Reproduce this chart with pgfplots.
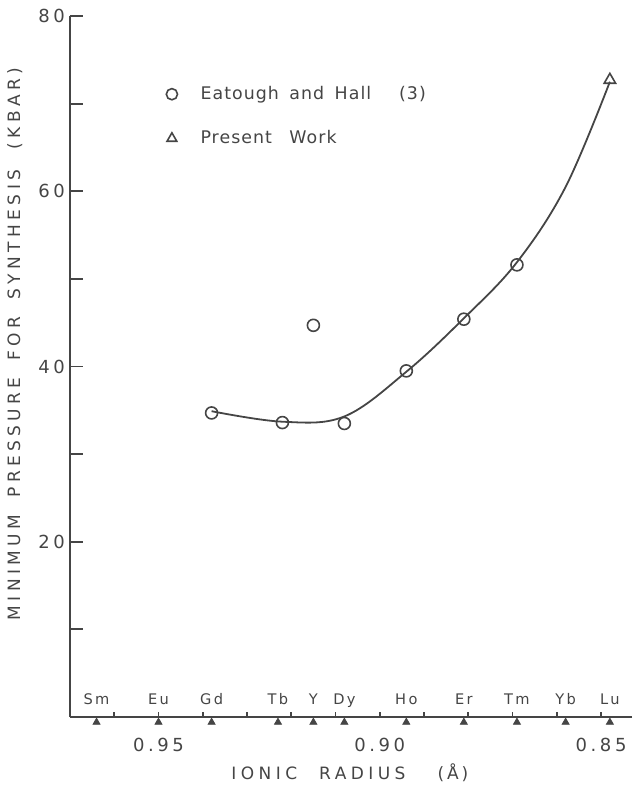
\documentclass[border=0pt]{standalone}
\usepackage{fontspec}
\setmainfont{DejaVu Sans}[LetterSpace=6]
\newfontfamily\axfont{DejaVu Sans}[LetterSpace=26]
\newfontfamily\elfont{DejaVu Sans}[LetterSpace=16]
\newfontfamily\tkfont{DejaVu Sans}[LetterSpace=20]
\usepackage{pgfplots}
\pgfplotsset{compat=1.18}
\definecolor{ink}{HTML}{454545}

\begin{document}
\begin{tikzpicture}
\begin{axis}[
    scale only axis,
    width=281pt, height=350.5pt,
    x dir=reverse,
    xmin=0.843, xmax=0.970,
    ymin=0, ymax=80,
    clip=false,
    axis x line*=bottom, axis y line*=left,
    axis line style={-, line width=1.3pt, color=ink},
    tick align=inside,
    tick style={line width=0.9pt, color=ink},
    major tick length=6.5pt,
    minor tick length=2.5pt,
    xtick={0.85,0.90,0.95},
    every major x tick/.append style={draw=none},
    minor xtick={0.85,0.86,0.87,0.88,0.89,0.90,0.91,0.92,0.93,0.94,0.95,0.96},
    ytick={20,40,60,80},
    extra y ticks={10,30,50,70},
    extra y tick labels={},
    /pgf/number format/assume math mode=true,
    xticklabel style={/pgf/number format/.cd, fixed, fixed zerofill, precision=2,
        /tikz/.cd, font=\tkfont\fontsize{9}{10}\selectfont, text=ink, yshift=-7pt},
    yticklabel style={font=\tkfont\fontsize{9}{10}\selectfont, text=ink, xshift=1pt},
    xlabel={IONIC\hspace{1.3em}RADIUS\hspace{1.9em}(\,Å\,)},
    ylabel={MINIMUM\hspace{1em}PRESSURE\hspace{1em}FOR\hspace{1em}SYNTHESIS\hspace{1.2em}(KBAR)},
    label style={font=\axfont\fontsize{8.5}{10}\selectfont, text=ink},
    xlabel style={at={(axis description cs:0.498,0)}, anchor=center, yshift=-28pt},
    ylabel style={at={(axis description cs:-0.098,0.532)}, anchor=center},
    legend image code/.code={\draw[#1, mark size=2.8pt] plot coordinates {(0pt,0pt)};},
    legend style={draw=none, fill=none, at={(axis description cs:0.16,0.912)},
        anchor=north west, font=\fontsize{8.7}{10}\selectfont, text=ink,
        row sep=10pt, /tikz/every odd column/.append style={column sep=9.5pt}},
    legend cell align=left,
]

% smooth curve drawn through the points
\addplot[ink, line width=0.9pt, smooth, tension=0.6, forget plot] coordinates {
    (0.938, 34.9)
    (0.922, 33.7)
    (0.908, 34.3)
    (0.894, 39.4)
    (0.881, 45.5)
    (0.869, 51.9)
    (0.858, 60.5)
    (0.848, 72.5)
};

% Eatough and Hall
\addplot[only marks, mark=o, mark size=3pt, ink, line width=0.8pt,
    mark options={fill=white}] coordinates {
    (0.938, 34.7)
    (0.922, 33.6)
    (0.915, 44.7)
    (0.908, 33.5)
    (0.894, 39.5)
    (0.881, 45.4)
    (0.869, 51.6)
};
\addlegendentry{Eatough\hspace{0.6em}and\hspace{0.6em}Hall\hspace{1.6em}(3)}

% Present work
\addplot[only marks, mark=triangle, mark size=3.3pt, ink, line width=0.8pt,
    mark options={fill=white}] coordinates {
    (0.848, 72.7)
};
\addlegendentry{Present\hspace{1em}Work}

% ionic radii markers below the axis
\addplot[only marks, mark=triangle*, mark size=2pt, ink, forget plot] coordinates {
    (0.964, -0.6) (0.950, -0.6) (0.938, -0.6) (0.923, -0.6) (0.915, -0.6)
    (0.908, -0.6) (0.894, -0.6) (0.881, -0.6) (0.869, -0.6) (0.858, -0.6)
    (0.848, -0.6)
};

% element names above the axis
\addplot[draw=none, mark=none, forget plot, nodes near coords, point meta=explicit symbolic,
    every node near coord/.append style={anchor=base, yshift=6pt,
        font=\elfont\fontsize{7.3}{8}\selectfont, text=ink}]
    table[meta=el] {
x     y  el
0.964 0  Sm
0.950 0  Eu
0.938 0  Gd
0.923 0  Tb
0.915 0  Y
0.908 0  Dy
0.894 0  Ho
0.881 0  Er
0.869 0  Tm
0.858 0  Yb
0.848 0  Lu
};

\end{axis}
\pgfresetboundingbox
\path[use as bounding box] ([shift={(-35pt,-34pt)}]current axis.south west)
    rectangle ([shift={(283.5pt,358.5pt)}]current axis.south west);
\end{tikzpicture}
\end{document}
